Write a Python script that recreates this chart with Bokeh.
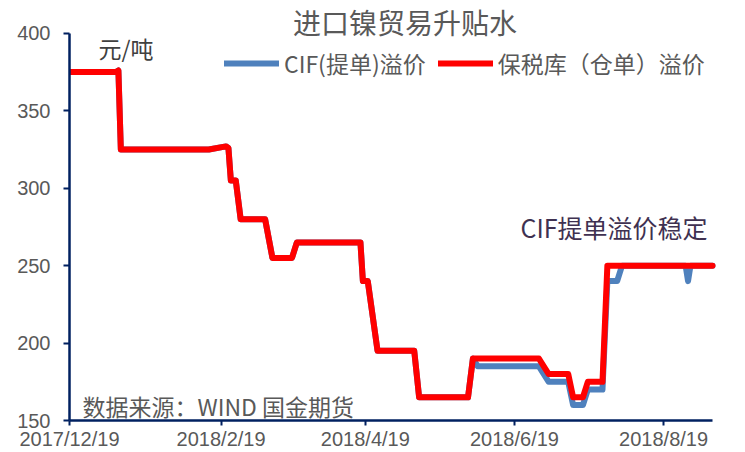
import pandas as pd
from bokeh.plotting import figure
from bokeh.models import FixedTicker, Legend, LegendItem, Label, Range1d
from bokeh.embed import file_html
from bokeh.resources import INLINE

# ---------------- data ----------------
start_date = "2017-12-19"
end_date = "2018-09-08"

cif_dates = ["2017-12-19", "2018-01-07", "2018-01-08", "2018-01-09", "2018-02-14",
             "2018-02-21", "2018-02-22", "2018-02-23", "2018-02-25", "2018-02-27",
             "2018-03-09", "2018-03-12", "2018-03-20", "2018-03-22", "2018-04-17",
             "2018-04-18", "2018-04-20", "2018-04-24", "2018-05-09", "2018-05-11",
             "2018-05-31", "2018-06-02", "2018-06-04", "2018-06-29", "2018-07-03",
             "2018-07-11", "2018-07-13", "2018-07-17", "2018-07-19", "2018-07-25",
             "2018-07-27", "2018-07-31", "2018-08-02", "2018-08-28", "2018-08-29",
             "2018-08-30", "2018-09-08"]
cif_values = [375, 375, 376, 325, 325,
              327, 326, 305, 305, 280,
              280, 255, 255, 265, 265,
              240, 240, 195, 195, 165,
              165, 190, 185, 185, 175,
              175, 160, 160, 170, 170,
              240, 240, 250, 250, 240,
              250, 250]

bonded_dates = ["2017-12-19", "2018-01-07", "2018-01-08", "2018-01-09", "2018-02-14",
                "2018-02-21", "2018-02-22", "2018-02-23", "2018-02-25", "2018-02-27",
                "2018-03-09", "2018-03-12", "2018-03-20", "2018-03-22", "2018-04-17",
                "2018-04-18", "2018-04-20", "2018-04-24", "2018-05-09", "2018-05-11",
                "2018-05-31", "2018-06-02", "2018-06-29", "2018-07-03", "2018-07-11",
                "2018-07-13", "2018-07-17", "2018-07-19", "2018-07-25", "2018-07-27",
                "2018-09-08"]
bonded_values = [375, 375, 376, 325, 325,
                 327, 326, 305, 305, 280,
                 280, 255, 255, 265, 265,
                 240, 240, 195, 195, 165,
                 165, 190, 190, 180, 180,
                 165, 165, 175, 175, 250,
                 250]

x_tick_dates = ["2017-12-19", "2018-02-19", "2018-04-19", "2018-06-19", "2018-08-19"]
x_tick_labels = ["2017/12/19", "2018/2/19", "2018/4/19", "2018/6/19", "2018/8/19"]
y_ticks = [150, 200, 250, 300, 350, 400]

series_labels = ["CIF(提单)溢价", "保税库（仓单）溢价"]
title_text = "进口镍贸易升贴水"
unit_text = "元/吨"
note_text = "CIF提单溢价稳定"
source_text = "数据来源：WIND 国金期货"

# ---------------- helpers ----------------
t0 = pd.Timestamp(start_date)


def to_days(dates):
    return [int((pd.Timestamp(d) - t0).days) for d in dates]


CJK = "Noto Sans CJK SC"
GREY = "#595959"
AXIS = "#002060"

# frame spans the whole canvas above/right of the axes; axis lines are bounded
x_end = to_days([end_date])[0]
y_top = 421.2
x_right = x_end + 13.5

p = figure(width=745, height=452, output_backend="svg", toolbar_location=None,
           x_range=Range1d(0, x_right),
           y_range=Range1d(y_ticks[0], y_top),
           min_border_left=69, min_border_right=0,
           min_border_top=0, min_border_bottom=30)
p.title.visible = False
p.outline_line_color = None
p.xgrid.grid_line_color = None
p.ygrid.grid_line_color = None
p.background_fill_color = "white"
p.border_fill_color = "white"

blue = p.line(to_days(cif_dates), cif_values, line_color="#4F81BD", line_width=6,
              line_join="round", line_cap="round")
red = p.line(to_days(bonded_dates), bonded_values, line_color="#FF0000", line_width=6,
             line_join="round", line_cap="round")

# axes
xt = to_days(x_tick_dates)
p.xaxis.ticker = FixedTicker(ticks=xt)
p.xaxis.major_label_overrides = {t: l for t, l in zip(xt, x_tick_labels)}
p.xaxis.bounds = (0, x_end)
p.yaxis.ticker = FixedTicker(ticks=y_ticks)
p.yaxis.bounds = (y_ticks[0], y_ticks[-1])
for ax in (p.xaxis, p.yaxis):
    ax.axis_line_color = AXIS
    ax.axis_line_width = 2.5
    ax.major_tick_line_color = AXIS
    ax.major_tick_line_width = 2
    ax.major_tick_in = 0
    ax.minor_tick_line_color = None
    ax.major_label_text_color = GREY
    ax.major_label_text_font = "Liberation Sans"
    ax.major_label_text_font_size = "20px"
p.xaxis.major_tick_out = 5
p.xaxis.major_label_standoff = 2
p.yaxis.major_tick_out = 6
p.yaxis.major_label_standoff = 13

# legend
legend = Legend(items=[LegendItem(label=series_labels[0], renderers=[blue]),
                       LegendItem(label=series_labels[1], renderers=[red])],
                orientation="horizontal", location=(155, 340),
                glyph_width=55, glyph_height=20, label_standoff=5, spacing=12,
                padding=0, margin=0, border_line_alpha=0, background_fill_alpha=0,
                label_text_font=CJK, label_text_font_size="23px",
                label_text_color=GREY)
p.add_layout(legend)

# texts
p.add_layout(Label(x=335.5, y=398.5, x_units="screen", y_units="screen", text=title_text,
                   text_align="center", text_baseline="middle", text_font=CJK,
                   text_font_size="28px", text_color=GREY))
p.add_layout(Label(x=29, y=373, x_units="screen", y_units="screen", text=unit_text,
                   text_align="left", text_baseline="middle", text_font=CJK,
                   text_font_size="23px", text_color="#404040"))
p.add_layout(Label(x=451, y=194, x_units="screen", y_units="screen", text=note_text,
                   text_align="left", text_baseline="middle", text_font=CJK,
                   text_font_size="25px", text_color="#3F3151"))
p.add_layout(Label(x=13, y=14.3, x_units="screen", y_units="screen", text=source_text,
                   text_align="left", text_baseline="middle", text_font=CJK,
                   text_font_size="23px", text_color=GREY))

open("out.html", "w").write(file_html(p, INLINE))
